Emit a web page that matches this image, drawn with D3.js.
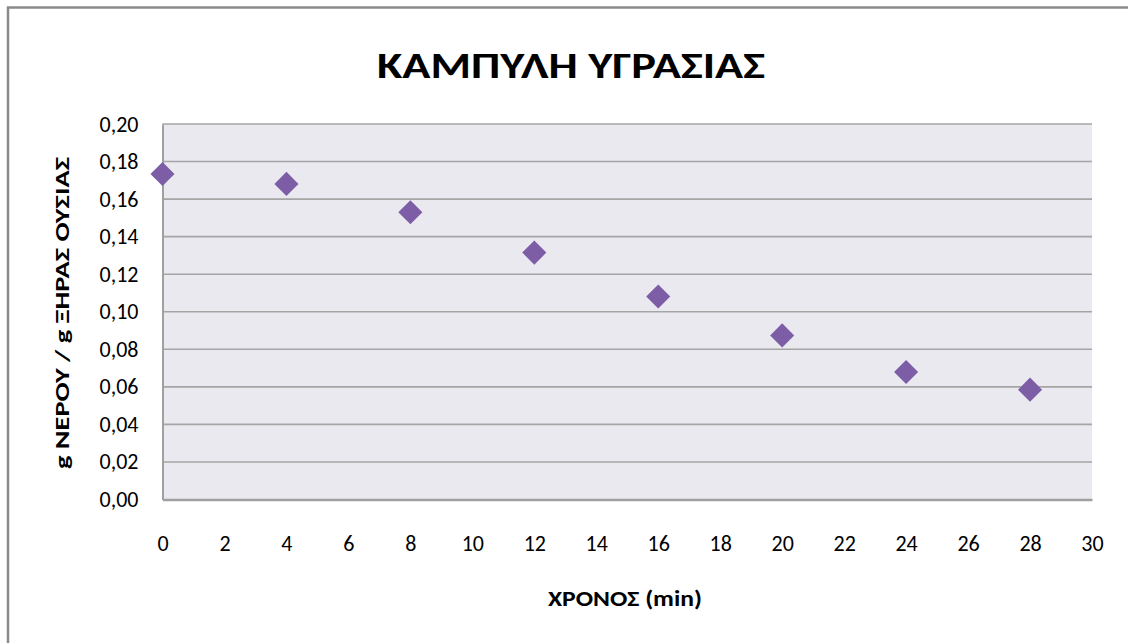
<!DOCTYPE html>
<html>
<head>
<meta charset="utf-8">
<script src="https://cdn.jsdelivr.net/npm/d3@7"></script>
<style>
  html, body { margin: 0; padding: 0; background: #ffffff; }
  svg { display: block; }
  text { font-family: Calibri, Carlito, "Open Sans", "Liberation Sans", sans-serif; fill: #000; }
</style>
</head>
<body>
<svg id="chart" width="1128" height="643"></svg>
<script>
// Drying curve: moisture content (g water / g dry matter) against time (min)
const timeMin = [0, 4, 8, 12, 16, 20, 24, 28];
const moisture = [0.1734, 0.1681, 0.1530, 0.1315, 0.1081, 0.0874, 0.0679, 0.0585];
const xTicks = [0, 2, 4, 6, 8, 10, 12, 14, 16, 18, 20, 22, 24, 26, 28, 30];
const yTicks = [0, 0.02, 0.04, 0.06, 0.08, 0.10, 0.12, 0.14, 0.16, 0.18, 0.20];

const titleText = "ΚΑΜΠΥΛΗ ΥΓΡΑΣΙΑΣ";
const xTitle = "ΧΡΟΝΟΣ (min)";
const yTitle = "g ΝΕΡΟΥ / g ΞΗΡΑΣ ΟΥΣΙΑΣ";

const svg = d3.select("#chart");
const plot = { left: 162.5, right: 1092, top: 124, bottom: 499.5 };

const x = d3.scaleLinear().domain([0, 30]).range([plot.left, plot.right]);
const y = d3.scaleLinear().domain([0, 0.20]).range([plot.bottom, plot.top]);

// outer frame (top and left edges)
svg.append("path")
  .attr("d", "M8,643 L8,7.5 L1128,7.5")
  .attr("fill", "none")
  .attr("stroke", "#8a8a8a")
  .attr("stroke-width", 2.5);

// plot background
svg.append("rect")
  .attr("x", plot.left).attr("y", plot.top)
  .attr("width", plot.right - plot.left).attr("height", plot.bottom - plot.top)
  .attr("fill", "#ebe9f0");

// horizontal gridlines
svg.append("g")
  .selectAll("line")
  .data(yTicks.filter(d => d > 0))
  .join("line")
  .attr("x1", plot.left).attr("x2", plot.right)
  .attr("y1", d => y(d)).attr("y2", d => y(d))
  .attr("stroke", "#a5a5a5")
  .attr("stroke-width", 1.6);

// y axis
const yAxis = d3.axisLeft(y)
  .tickValues(yTicks)
  .tickSize(0)
  .tickPadding(24)
  .tickFormat(d => d3.format(".2f")(d).replace(".", ","));
const gy = svg.append("g").attr("transform", `translate(${plot.left},0)`).call(yAxis);
gy.attr("font-family", null);
gy.select(".domain").attr("stroke", "#a0a0a0").attr("stroke-width", 2);
gy.selectAll("text").attr("font-size", 22).attr("fill", "#111");

// x axis
const xAxis = d3.axisBottom(x)
  .tickValues(xTicks)
  .tickSize(0)
  .tickPadding(36)
  .tickFormat(d => d);
const gx = svg.append("g").attr("transform", `translate(0,${plot.bottom})`).call(xAxis);
gx.attr("font-family", null);
gx.select(".domain").attr("stroke", "#a0a0a0").attr("stroke-width", 2.5);
gx.selectAll("text").attr("font-size", 22).attr("fill", "#111");

// diamond markers
const diamond = d3.symbol().type(d3.symbolSquare).size(290);
svg.append("g")
  .selectAll("path")
  .data(timeMin.map((t, i) => ({ t, v: moisture[i] })))
  .join("path")
  .attr("d", diamond)
  .attr("transform", d => `translate(${x(d.t)},${y(d.v)}) rotate(45)`)
  .attr("fill", "#7d5ea6");

// titles
svg.append("text")
  .attr("x", 571).attr("y", 78)
  .attr("text-anchor", "middle")
  .attr("font-size", 37)
  .attr("font-weight", "bold")
  .attr("textLength", 388)
  .attr("lengthAdjust", "spacingAndGlyphs")
  .text(titleText);

svg.append("text")
  .attr("x", 625).attr("y", 606)
  .attr("text-anchor", "middle")
  .attr("font-size", 22)
  .attr("font-weight", "bold")
  .attr("textLength", 154)
  .attr("lengthAdjust", "spacingAndGlyphs")
  .text(xTitle);

svg.append("text")
  .attr("transform", "translate(69,313) rotate(-90)")
  .attr("text-anchor", "middle")
  .attr("font-size", 21)
  .attr("font-weight", "bold")
  .attr("textLength", 312)
  .attr("lengthAdjust", "spacingAndGlyphs")
  .text(yTitle);
</script>
</body>
</html>
